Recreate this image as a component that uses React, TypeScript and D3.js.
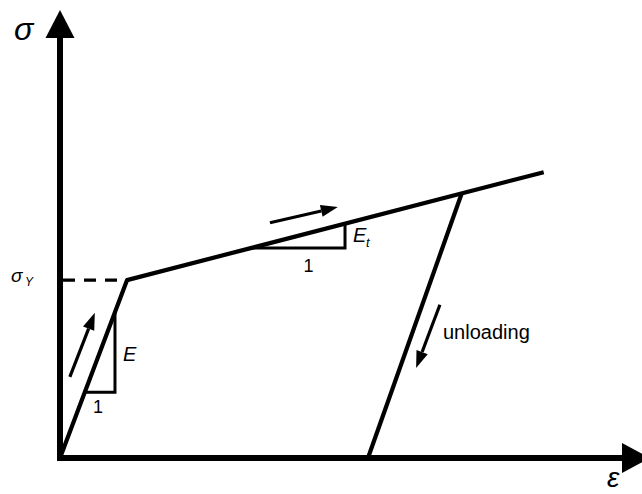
import React from "react";
import * as d3 from "d3";

// bilinear stress-strain curve, in arbitrary strain / stress units
const loadingCurve: [number, number][] = [
  [0, 0],
  [1.155, 3.97],
  [8.34, 6.38],
];
const unloadingCurve: [number, number][] = [
  [6.93, 5.92],
  [5.31, 0],
];
const yieldStress = 3.97;
const yieldStrain = 1.155;

// slope triangles: vertical leg strain, horizontal leg stress
const elasticTri = { eps: 0.948, sigLow: 1.47 };
const tangentTri = { eps: 4.914, sigLow: 4.69 };

// direction arrows [from, to]
const arrows: [number, number][][] = [
  [[0.17, 1.81], [0.6, 3.24]],
  [[3.62, 5.25], [4.79, 5.6]],
  [[6.55, 3.42], [6.14, 2.01]],
];

const W = 642;
const H = 494;
const font = "'Liberation Sans', Arial, sans-serif";

const x = d3.scaleLinear().domain([0, 10]).range([60, 640]);
const y = d3.scaleLinear().domain([0, 10]).range([458, 10]);

const line = d3
  .line<[number, number]>()
  .x((d) => x(d[0]))
  .y((d) => y(d[1]));

// stress on the hardening branch at a given strain
const hardening = d3
  .scaleLinear()
  .domain([loadingCurve[1][0], loadingCurve[2][0]])
  .range([loadingCurve[1][1], loadingCurve[2][1]]);

function Arrow({ a, b }: { a: [number, number]; b: [number, number] }) {
  const x1 = x(a[0]), y1 = y(a[1]), x2 = x(b[0]), y2 = y(b[1]);
  const ang = Math.atan2(y2 - y1, x2 - x1);
  const len = 17, half = 6;
  const bx = x2 - len * Math.cos(ang);
  const by = y2 - len * Math.sin(ang);
  const px = -Math.sin(ang) * half, py = Math.cos(ang) * half;
  return (
    <g>
      <line x1={x1} y1={y1} x2={bx} y2={by} stroke="#000" strokeWidth={3.2} />
      <polygon points={`${x2},${y2} ${bx + px},${by + py} ${bx - px},${by - py}`} fill="#000" />
    </g>
  );
}

export default function App() {
  // elastic triangle
  const eTop = (elasticTri.eps * yieldStress) / yieldStrain;
  const eLeft = (elasticTri.sigLow * yieldStrain) / yieldStress;
  // tangent triangle
  const tTop = hardening(tangentTri.eps);
  const tLeft = hardening.invert(tangentTri.sigLow);

  return (
    <svg
      width={W}
      height={H}
      style={{ position: "absolute", left: 0, top: 0, background: "#fff" }}
    >
      {/* axes */}
      <line x1={x(0)} y1={y(0) + 3} x2={x(0)} y2={36} stroke="#000" strokeWidth={6} />
      <polygon points={`${x(0)},10 ${x(0) - 14.5},38 ${x(0) + 14.5},38`} fill="#000" />
      <line x1={x(0) - 3} y1={y(0)} x2={624} y2={y(0)} stroke="#000" strokeWidth={6} />
      <polygon points={`650,${y(0)} 622,${y(0) - 15} 622,${y(0) + 15}`} fill="#000" />

      {/* yield dashed line */}
      <line
        x1={x(0) + 3}
        y1={y(yieldStress)}
        x2={x(yieldStrain)}
        y2={y(yieldStress)}
        stroke="#000"
        strokeWidth={3.2}
        strokeDasharray="12 9"
      />

      {/* curves */}
      <path d={line(loadingCurve) || ""} fill="none" stroke="#000" strokeWidth={4.2} strokeLinejoin="round" />
      <path d={line(unloadingCurve) || ""} fill="none" stroke="#000" strokeWidth={4.2} />

      {/* slope triangles */}
      <path
        d={`M${x(elasticTri.eps)},${y(eTop)} V${y(elasticTri.sigLow)} H${x(eLeft)}`}
        fill="none"
        stroke="#000"
        strokeWidth={3}
      />
      <path
        d={`M${x(tangentTri.eps)},${y(tTop)} V${y(tangentTri.sigLow)} H${x(tLeft)}`}
        fill="none"
        stroke="#000"
        strokeWidth={3}
      />

      {arrows.map((d, i) => (
        <Arrow key={i} a={d[0]} b={d[1]} />
      ))}

      {/* labels */}
      <g fontFamily={font} fill="#000">
        <text x={14} y={40} fontSize={32} fontStyle="italic">σ</text>
        <text x={607} y={487} fontSize={28} fontStyle="italic">ε</text>
        <text x={11} y={282} fontSize={19} fontStyle="italic">σ</text>
        <text x={25} y={286} fontSize={12} fontStyle="italic">Y</text>
        <text x={x(elasticTri.eps) + 8} y={y(2.16)} fontSize={20} fontStyle="italic">E</text>
        <text x={x(0.57)} y={y(1.47) + 21} fontSize={18}>1</text>
        <text x={x(tangentTri.eps) + 8} y={242} fontSize={20} fontStyle="italic">E</text>
        <text x={x(tangentTri.eps) + 21} y={247} fontSize={13} fontStyle="italic">t</text>
        <text x={x(4.2)} y={y(tangentTri.sigLow) + 24} fontSize={18}>1</text>
        <text x={443} y={339} fontSize={20}>unloading</text>
      </g>
    </svg>
  );
}
